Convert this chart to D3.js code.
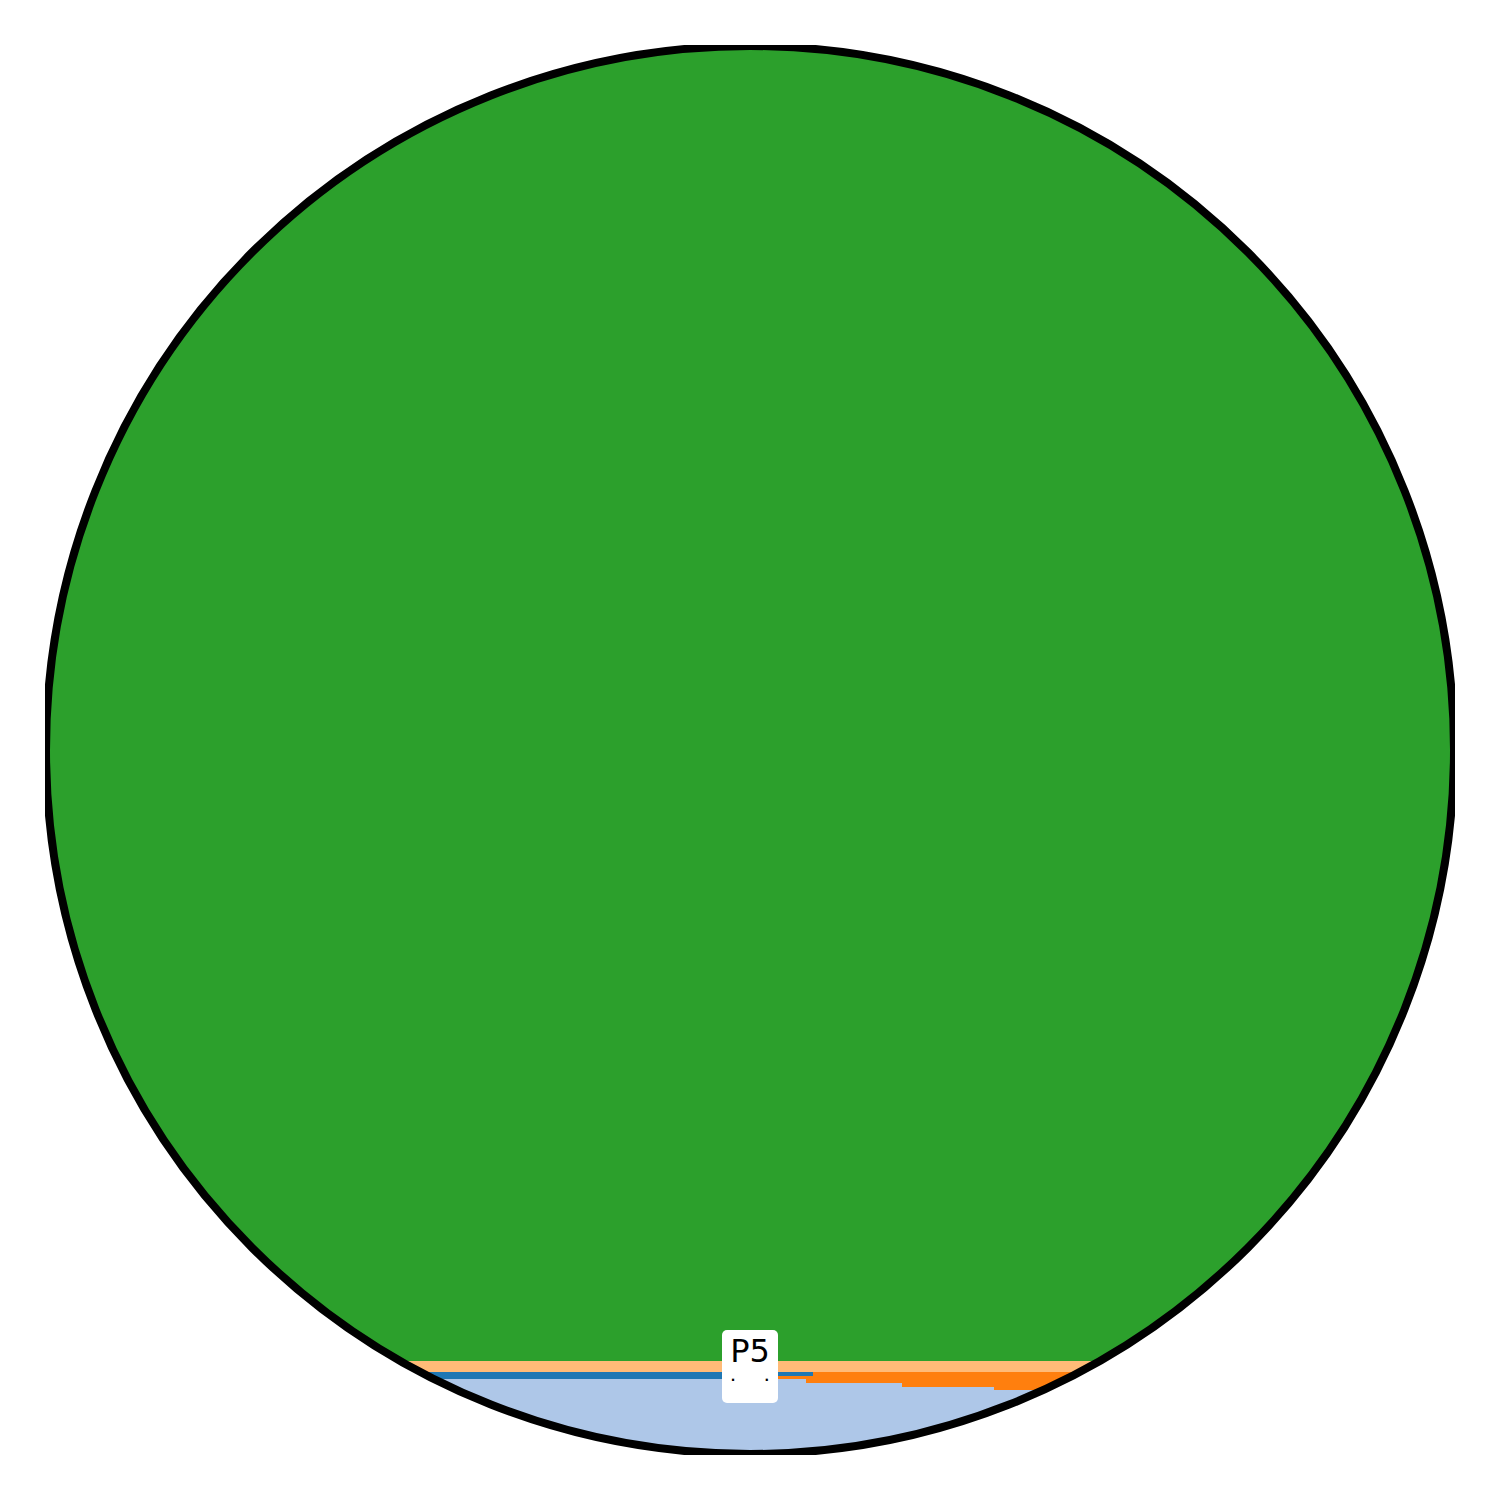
<!DOCTYPE html>
<html>
<head>
<meta charset="utf-8">
<script src="https://cdn.jsdelivr.net/npm/d3@7"></script>
<style>
  html, body { margin: 0; padding: 0; background: #fff; }
  svg { display: block; }
</style>
</head>
<body>
<svg id="chart" width="1500" height="1500"></svg>
<script>
// ---- data ----
const xs        = [0, 50.0, 54.0, 54.5, 60.8, 67.3, 100];
const lightBlue = [5.33, 5.33, 5.04, 5.04, 4.76, 4.55, 4.55];
const orange    = [0.00, 0.23, 0.52, 0.78, 1.07, 1.28, 1.28];
const blue      = [0.50, 0.26, 0.26, 0.00, 0.00, 0.00, 0.00];
const peach     = [0.78, 0.78, 0.78, 0.78, 0.78, 0.78, 0.78];
const green     = [93.39, 93.40, 93.40, 93.40, 93.39, 93.39, 93.39];
const seriesKeys   = ["lightBlue", "orange", "blue", "peach", "green"];
const seriesColors = ["#aec7e8", "#ff7f0e", "#1f77b4", "#ffbb78", "#2ca02c"];
const labelText = "P5";
const labelSub  = ".       .";
const labelX = 50.0;

// ---- layout ----
const cx = 750, cy = 750, R = 704;
const svg = d3.select("#chart");
const x = d3.scaleLinear().domain([0, 100]).range([cx - R, cx + R]);
const y = d3.scaleLinear().domain([0, 100]).range([cy + R, cy - R]);

const rows = xs.map((v, i) => ({
  x: v, lightBlue: lightBlue[i], orange: orange[i], blue: blue[i], peach: peach[i], green: green[i]
}));
const stacked = d3.stack().keys(seriesKeys)(rows);

const defs = svg.append("defs");
defs.append("clipPath").attr("id", "circ")
  .append("circle").attr("cx", cx).attr("cy", cy).attr("r", R);
defs.append("clipPath").attr("id", "box")
  .append("rect").attr("x", 45).attr("y", 45).attr("width", 1410).attr("height", 1410);

const area = d3.area()
  .x(d => x(d.data.x))
  .y0(d => y(d[0]))
  .y1(d => y(d[1]))
  .curve(d3.curveStepAfter);

const g = svg.append("g").attr("clip-path", "url(#box)");
const fills = g.append("g").attr("clip-path", "url(#circ)");
fills.selectAll("path").data(stacked).join("path")
  .attr("d", area)
  .attr("fill", (d, i) => seriesColors[i])
  .attr("stroke", "none")
  .attr("shape-rendering", "crispEdges");

g.append("circle")
  .attr("cx", cx).attr("cy", cy).attr("r", R)
  .attr("fill", "none").attr("stroke", "#000").attr("stroke-width", 8);

// ---- label ----
const lx = x(labelX);
const lab = svg.append("g");
lab.append("rect")
  .attr("x", lx - 28).attr("y", 1330).attr("width", 56).attr("height", 73)
  .attr("rx", 5).attr("fill", "#fff");
lab.append("text")
  .attr("x", lx).attr("y", 1362)
  .attr("text-anchor", "middle")
  .attr("font-family", "DejaVu Sans")
  .attr("font-size", 32)
  .attr("fill", "#000")
  .text(labelText);
lab.append("text")
  .attr("x", lx).attr("y", 1381)
  .attr("text-anchor", "middle")
  .attr("font-family", "DejaVu Sans")
  .attr("font-size", 12)
  .attr("font-weight", "bold")
  .attr("fill", "#000")
  .style("white-space", "pre")
  .text(labelSub);
</script>
</body>
</html>
